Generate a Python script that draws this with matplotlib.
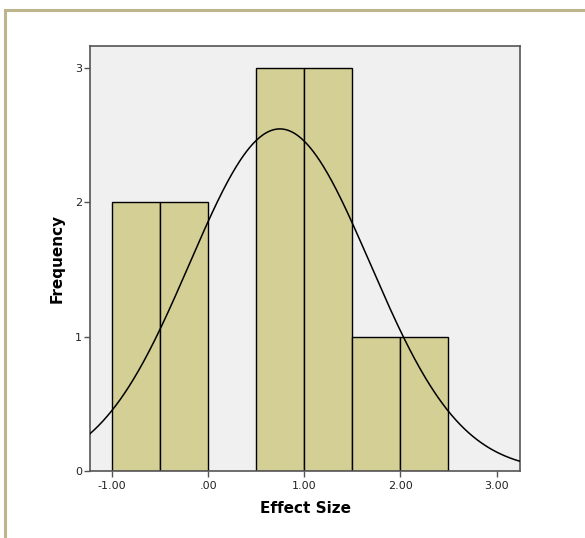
import numpy as np
import matplotlib
matplotlib.use("Agg")
import matplotlib.pyplot as plt
from matplotlib.lines import Line2D

# Histogram bins (left edge) and counts
bin_left = [-1.0, -0.5, 0.5, 1.0, 1.5, 2.0]
counts = [2, 2, 3, 3, 1, 1]
bin_width = 0.5

# Normal curve parameters
n_total = 12
mean_es = 0.745
sd_es = 0.94

x_ticks = [-1.0, 0.0, 1.0, 2.0, 3.0]
x_tick_labels = ["-1.00", ".00", "1.00", "2.00", "3.00"]
y_ticks = [0, 1, 2, 3]

# Colors:
bar_color = "#d4cf94"
bg_color = "#f0f0f0"
frame_color = "#bdb58c"
spine_color = "#555555"

fig = plt.figure(figsize=(5.85, 5.38), dpi=100)
fig.patch.set_facecolor("white")

ax = fig.add_axes([0.154, 0.124, 0.735, 0.791], facecolor=bg_color)

ax.bar(bin_left, counts, width=bin_width, align="edge",
       color=bar_color, edgecolor="black", linewidth=1.0, zorder=2)

xs = np.linspace(-1.23, 3.25, 400)
ys = n_total * bin_width / (sd_es * np.sqrt(2 * np.pi)) * np.exp(-(xs - mean_es) ** 2 / (2 * sd_es ** 2))
ax.plot(xs, ys, color="black", lw=1.1, zorder=3)

ax.set_xlim(-1.23, 3.245)
ax.set_ylim(0, 3.165)

ax.set_xticks(x_ticks)
ax.set_xticklabels(x_tick_labels)
ax.set_yticks(y_ticks)
ax.tick_params(axis="both", direction="out", length=4, width=1.0,
               color=spine_color, labelsize=8, labelcolor="#222222")
ax.tick_params(axis="x", pad=3)
ax.tick_params(axis="y", pad=2)

for side in ["left", "bottom", "right", "top"]:
    ax.spines[side].set_color(spine_color)
    ax.spines[side].set_linewidth(1.2)

ax.set_xlabel("Effect Size", fontsize=11, fontweight="bold", labelpad=7)
ax.set_ylabel("Frequency", fontsize=11, fontweight="bold", labelpad=7)

# Outer khaki frame (top and left edges)
fig.add_artist(Line2D([5 / 585, 1.0], [1 - 10 / 538, 1 - 10 / 538],
                      transform=fig.transFigure, color=frame_color, lw=2.2))
fig.add_artist(Line2D([5 / 585, 5 / 585], [0.0, 1 - 10 / 538],
                      transform=fig.transFigure, color=frame_color, lw=2.2))

fig.savefig("out.png", dpi=100)
